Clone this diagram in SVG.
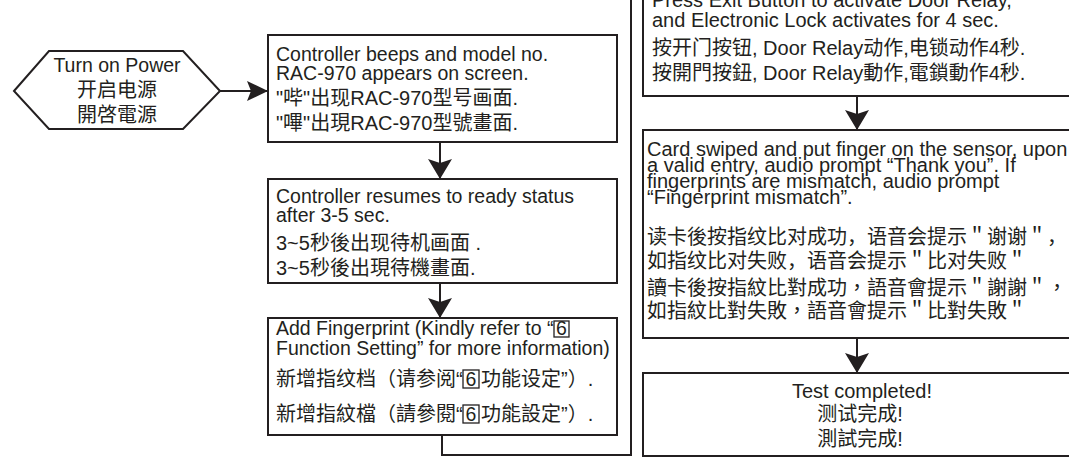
<svg xmlns="http://www.w3.org/2000/svg" width="1069" height="462" viewBox="0 0 1069 462">
<defs>
<marker id="arr" viewBox="0 0 20 24" refX="20" refY="12" markerWidth="20" markerHeight="24" markerUnits="userSpaceOnUse" orient="auto">
<path d="M0,0 L20,12 L0,24 L4,12 Z" fill="#231f20"/>
</marker>
<marker id="arrs" viewBox="0 0 21 20" refX="21" refY="10" markerWidth="21" markerHeight="20" markerUnits="userSpaceOnUse" orient="auto">
<path d="M0,0 L21,10 L0,20 L4,10 Z" fill="#231f20"/>
</marker>
</defs>
<style>
.box{fill:#fff;stroke:#231f20;stroke-width:2}
.t{font-family:"Liberation Sans",Arial,sans-serif;font-size:19.5px;fill:#231f20}
.r{font-size:20px}
.sc{font-family:"Liberation Sans","Noto Sans CJK SC",sans-serif;font-size:20px;fill:#231f20}
.tc{font-family:"Liberation Sans","Noto Sans CJK TC",sans-serif;font-size:20px;fill:#231f20}
.c{text-anchor:middle}
.sq{fill:none;stroke:#231f20;stroke-width:1.3}
.ln{fill:none;stroke:#231f20;stroke-width:2}
</style>
<rect width="1069" height="462" fill="#fff"/>

<g id="connectors">
<path class="ln" d="M220,91 H268" marker-end="url(#arrs)"/>
<path class="ln" d="M440,142 V179" marker-end="url(#arr)"/>
<path class="ln" d="M440,283 V318" marker-end="url(#arr)"/>
<path class="ln" d="M442,435 V455 H631 V-10"/>
<path class="ln" d="M857,96 V130" marker-end="url(#arr)"/>
<path class="ln" d="M857,338 V373" marker-end="url(#arr)"/>
</g>

<g id="start">
<polygon class="box" points="14,91 49,51 183,51 220,91 183,129 49,129"/>
<text class="t c" x="117" y="72">Turn on Power</text>
<text class="sc c" x="117" y="97">开启电源</text>
<text class="tc c" x="117" y="122">開啓電源</text>
</g>

<g id="step1">
<rect class="box" x="268" y="35" width="349" height="107"/>
<text class="t" x="276" y="61">Controller beeps and model no.</text>
<text class="t" x="276" y="80">RAC-970 appears on screen.</text>
<text class="sc" x="276" y="105">"哔"出现RAC-970型号画面.</text>
<text class="tc" x="276" y="130">"嗶"出現RAC-970型號畫面.</text>
</g>

<g id="step2">
<rect class="box" x="268" y="179" width="349" height="104"/>
<text class="t" x="276" y="203">Controller resumes to ready status</text>
<text class="t" x="276" y="222">after 3-5 sec.</text>
<text class="sc" x="276" y="250">3~5秒後出现待机画面 .</text>
<text class="tc" x="276" y="275">3~5秒後出現待機畫面.</text>
</g>

<g id="step3">
<rect class="box" x="268" y="318" width="349" height="117"/>
<text class="t" x="276" y="335">Add Fingerprint (Kindly refer to “</text>
<rect class="sq" x="554" y="321" width="15" height="16"/>
<text class="t c" x="561.5" y="335">6</text>
<text class="t" x="276" y="355">Function Setting” for more information)</text>
<text class="sc" x="276" y="386">新增指纹档（请参阅“</text>
<rect class="sq" x="463" y="370" width="16" height="18"/>
<text class="t c" x="471" y="386">6</text>
<text class="sc" x="481" y="386">功能设定”）.</text>
<text class="tc" x="276" y="421">新增指紋檔（請參閱“</text>
<rect class="sq" x="463" y="405" width="16" height="18"/>
<text class="t c" x="471" y="421">6</text>
<text class="tc" x="481" y="421">功能設定”）.</text>
</g>

<g id="step4">
<rect class="box" x="643" y="-20" width="440" height="116"/>
<text class="t r" x="652" y="7">Press Exit Button to activate Door Relay,</text>
<text class="t r" x="652" y="27">and Electronic Lock activates for 4 sec.</text>
<text class="sc" x="652" y="55">按开门按钮, Door Relay动作,电锁动作4秒.</text>
<text class="tc" x="652" y="80">按開門按鈕, Door Relay動作,電鎖動作4秒.</text>
</g>

<g id="step5">
<rect class="box" x="643" y="130" width="440" height="208"/>
<text class="t r" x="647" y="156">Card swiped and put finger on the sensor, upon</text>
<text class="t r" x="647" y="172">a valid entry, audio prompt “Thank you”. If</text>
<text class="t r" x="647" y="188">fingerprints are mismatch, audio prompt</text>
<text class="t r" x="647" y="204">“Fingerprint mismatch”.</text>
<text class="sc" x="647" y="244">读卡後按指纹比对成功，语音会提示＂谢谢＂，</text>
<text class="sc" x="647" y="268">如指纹比对失败，语音会提示＂比对失败＂</text>
<text class="tc" x="647" y="295">讀卡後按指紋比對成功，語音會提示＂謝謝＂，</text>
<text class="tc" x="647" y="318">如指紋比對失敗，語音會提示＂比對失敗＂</text>
</g>

<g id="end">
<rect class="box" x="643" y="373" width="440" height="83"/>
<text class="t r c" x="862" y="398">Test completed!</text>
<text class="sc c" x="860" y="421">测试完成!</text>
<text class="tc c" x="860" y="446">測試完成!</text>
</g>
</svg>
